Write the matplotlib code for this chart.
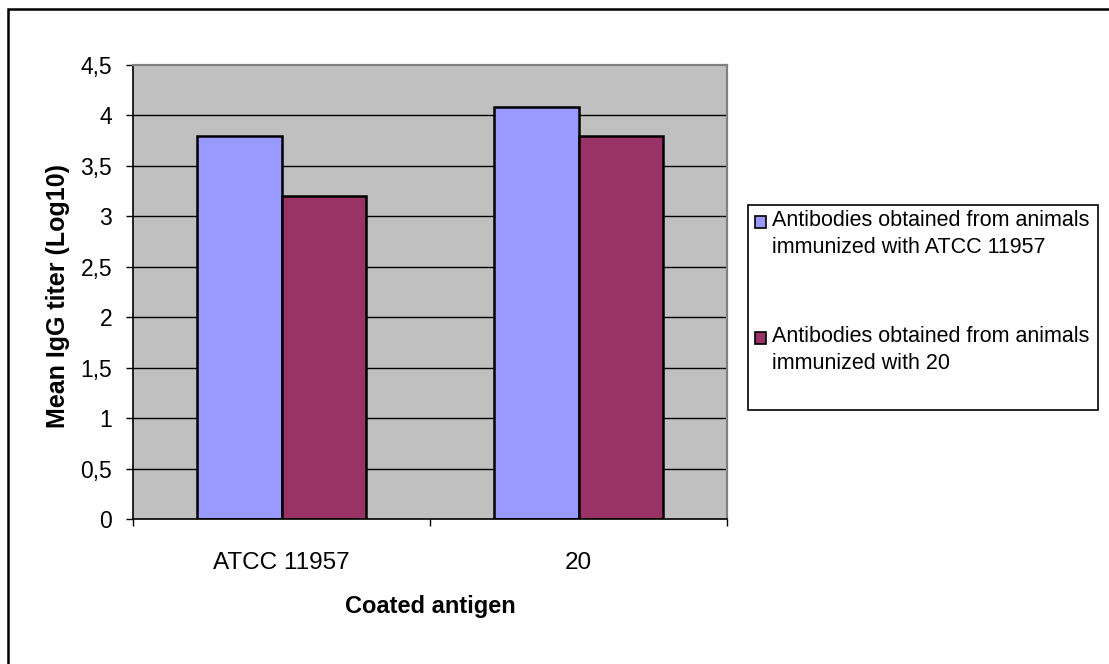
import matplotlib.pyplot as plt
from matplotlib.patches import Rectangle
import numpy as np

plt.rcParams['font.family'] = ['Liberation Sans', 'DejaVu Sans']

# dane: srednie miana IgG (log10)
antigens = ['ATCC 11957', '20']
series_names = ['Antibodies obtained from animals\nimmunized with ATCC 11957',
                'Antibodies obtained from animals\nimmunized with 20']
atcc_serum = [3.8, 4.08]
serum_20 = [3.2, 3.8]
colors = ['#9999FF', '#993366']
yticks = [0, 0.5, 1, 1.5, 2, 2.5, 3, 3.5, 4, 4.5]

W, H = 1109, 664
fig = plt.figure(figsize=(W / 100, H / 100), dpi=100)
ax = fig.add_axes([133 / W, 1 - 519 / H, 594 / W, 454 / H])
ax.set_facecolor('#C0C0C0')

x = np.arange(len(antigens))
w = 1 / 3.5
ax.bar(x - w / 2, atcc_serum, w, color=colors[0], edgecolor='black', linewidth=1.8, zorder=3)
ax.bar(x + w / 2, serum_20, w, color=colors[1], edgecolor='black', linewidth=1.8, zorder=3)

ax.set_xlim(-0.5, 1.5)
ax.set_ylim(0, 4.5)
ax.set_yticks(yticks)
ax.set_yticklabels([('%g' % v).replace('.', ',') for v in yticks], fontsize=16.5)
for v in yticks[1:-1]:
    ax.axhline(v, color='black', linewidth=1.0, zorder=1)

# etykiety kategorii miedzy znacznikami
ax.set_xticks([-0.5, 0.5, 1.5])
ax.set_xticklabels([])
ax.set_xticks(x, minor=True)
ax.set_xticklabels(antigens, minor=True, fontsize=17.5)
ax.tick_params(axis='x', which='minor', length=0, pad=24)
ax.tick_params(axis='x', which='major', direction='out', length=5, width=1, color='black')
ax.tick_params(axis='y', direction='out', length=5, width=1, pad=10)

for s in ['top', 'right']:
    ax.spines[s].set_color('#808080')
    ax.spines[s].set_linewidth(1.6)
for s in ['left', 'bottom']:
    ax.spines[s].set_color('black')
    ax.spines[s].set_linewidth(1.2)
ax.spines['bottom'].set_zorder(4)

ax.set_xlabel('Coated antigen', fontsize=17, fontweight='bold', labelpad=15)
fig.text(58 / W, 1 - 296 / H, 'Mean IgG titer (Log10)', rotation=90, fontsize=18,
         fontweight='bold', ha='center', va='center')

# legenda rysowana recznie
fig.patches.append(Rectangle((748 / W, 1 - 410 / H), 350 / W, 205 / H, transform=fig.transFigure,
                             facecolor='white', edgecolor='black', linewidth=1.2))
for i, (name, c) in enumerate(zip(series_names, colors)):
    y0 = 222 + i * 116
    fig.patches.append(Rectangle((755 / W, 1 - (y0 + 6) / H), 11 / W, 12 / H, transform=fig.transFigure,
                                 facecolor=c, edgecolor='black', linewidth=1.2))
    fig.text(772 / W, 1 - (y0 - 12) / H, name, fontsize=15.5, va='top', ha='left', linespacing=1.35)

# ramka calego wykresu
fig.patches.append(Rectangle((8 / W, -0.1), 1.2, 1 - 9 / H + 0.1, transform=fig.transFigure,
                             facecolor='none', edgecolor='black', linewidth=1.8))

fig.savefig('out.png', dpi=100)
